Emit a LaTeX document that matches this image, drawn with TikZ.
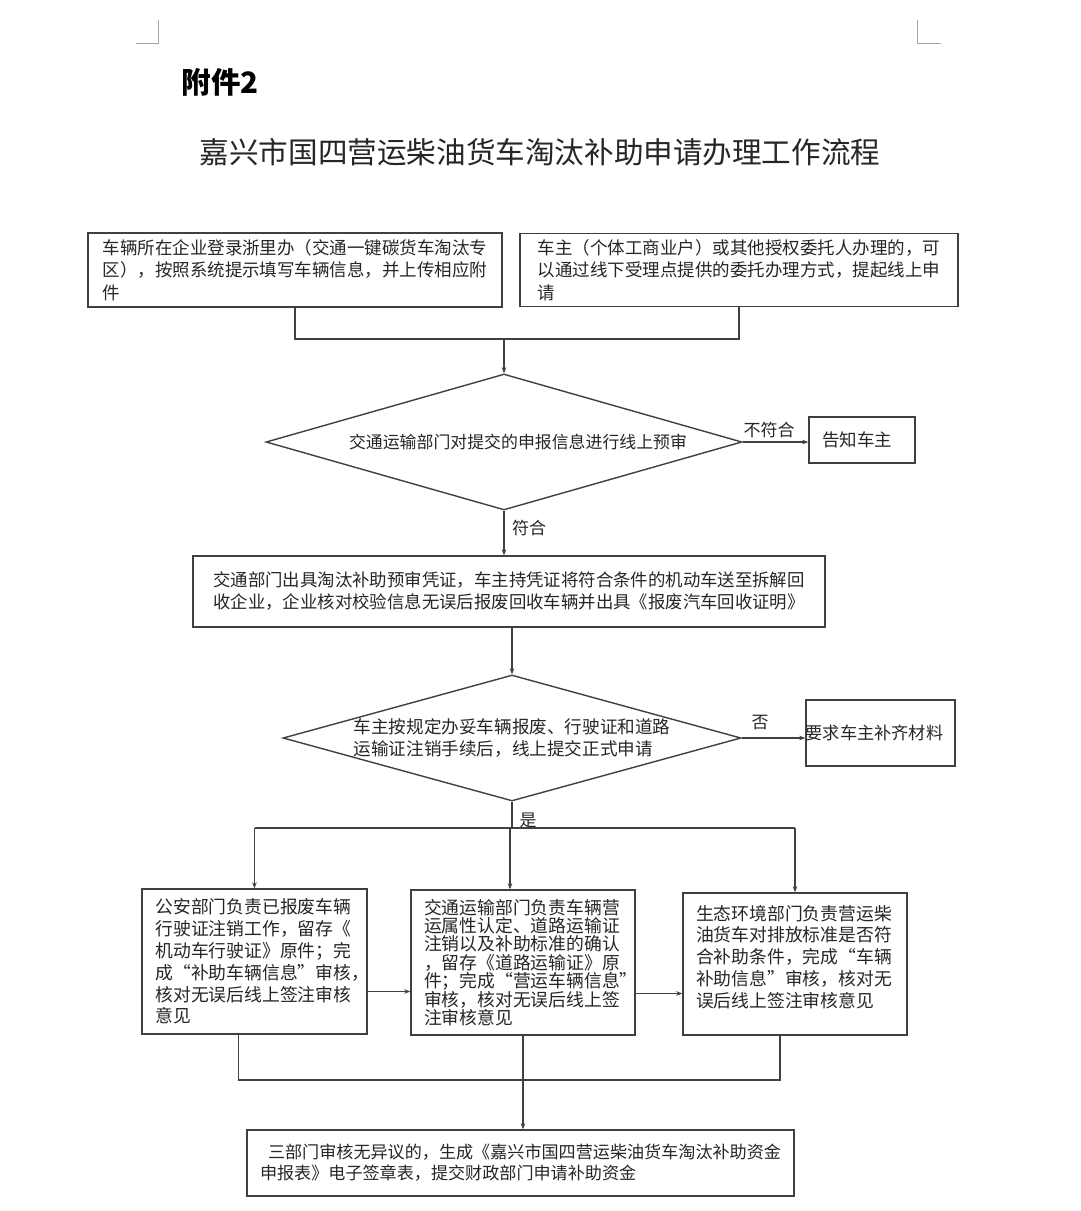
\documentclass[tikz,border=0pt]{standalone}
\usepackage{fontspec}
\setmainfont{Noto Sans CJK SC}
\usetikzlibrary{shapes.geometric,arrows.meta}
\definecolor{linec}{HTML}{404040}
\definecolor{txtc}{HTML}{262626}
\newcommand\fsz[2]{\fontsize{#1pt}{#2pt}\selectfont}
\begin{document}
\begin{tikzpicture}[x=1pt,y=-1pt,
  box/.style={draw=linec, line width=1.4pt, inner sep=0pt, align=left, text=txtc},
  dia/.style={draw=linec, line width=1.4pt, diamond, aspect=3.6, inner sep=-12pt, align=left, text=txtc},
  lbl/.style={text=txtc, inner sep=0pt, font=\fsz{17}{20}},
  ln/.style={draw=linec, line width=1.3pt},
  arr/.style={draw=linec, line width=1.3pt, -{Stealth[length=6pt,width=4.5pt]}}]
\useasboundingbox[fill=white] (0,0) rectangle (1080,1211);

% corner marks
\draw[gray!70, line width=1pt] (136,43) -- (158,43) -- (158,20);
\draw[gray!70, line width=1pt] (917,20) -- (917,43) -- (941,43);

% header
\node[text=black, font=\fsz{29.5}{34}\bfseries] (h1) at (220,82) {附件2};
\node[text=txtc, font=\fsz{29.6}{36}] (h2) at (540,152) {嘉兴市国四营运柴油货车淘汰补助申请办理工作流程};

% top boxes
\node[box, font=\fsz{17.5}{22.5}, minimum width=414pt, minimum height=74pt] (b1) at (295,270)
  {车辆所在企业登录浙里办（交通一键碳货车淘汰专\\区），按照系统提示填写车辆信息，并上传相应附\\件};
\node[box, font=\fsz{17.5}{22.5}, minimum width=438pt, minimum height=73pt] (b2) at (739,270)
  {车主（个体工商业户）或其他授权委托人办理的，可\\以通过线下受理点提供的委托办理方式，提起线上申\\请};

% diamond 1
\node[dia, font=\fsz{16.9}{20}, minimum width=476pt, minimum height=136pt] (d1) at (504,442)
  {\hspace*{28pt}交通运输部门对提交的申报信息进行线上预审};
\node[box, font=\fsz{17.5}{20}, minimum width=106pt, minimum height=46pt] (tz) at (862,440)
  {\hspace*{-10pt}告知车主};
\node[lbl] (l1) at (769,430) {不符合};
\node[lbl] (l2) at (529,528) {符合};

% box 3
\node[box, font=\fsz{17.4}{22}, minimum width=632pt, minimum height=71pt] (b3) at (509,591.5)
  {交通部门出具淘汰补助预审凭证，车主持凭证将符合条件的机动车送至拆解回\\收企业，企业核对校验信息无误后报废回收车辆并出具《报废汽车回收证明》};

% diamond 2
\node[dia, font=\fsz{17.6}{21.5}, minimum width=458pt, minimum height=126pt] (d2) at (512,738)
  {车主按规定办妥车辆报废、行驶证和道路\\运输证注销手续后，线上提交正式申请};
\node[box, font=\fsz{17.2}{20}, minimum width=149pt, minimum height=66pt] (rq) at (880.5,733)
  {\hspace*{-12pt}要求车主补齐材料};
\node[lbl] (l3) at (760,723) {否};
\node[lbl] (l4) at (528,820) {是};

% three department boxes
\node[box, font=\fsz{17.8}{21.8}, text width=198pt, minimum width=225pt, minimum height=145pt] (b4) at (254.5,961.5)
  {公安部门负责已报废车辆\\行驶证注销工作，留存《\\机动车行驶证》原件；完\\成“补助车辆信息”审核，\\核对无误后线上签注审核\\意见};
\node[box, font=\fsz{17.8}{18.4}, text width=198pt, minimum width=224pt, minimum height=145pt] (b5) at (523,962.5)
  {交通运输部门负责车辆营\\运属性认定、道路运输证\\注销以及补助标准的确认\\，留存《道路运输证》原\\件；完成“营运车辆信息”\\审核，核对无误后线上签\\注审核意见};
\node[box, font=\fsz{17.8}{21.7}, text width=198pt, minimum width=224pt, minimum height=142pt] (b6) at (795,964)
  {生态环境部门负责营运柴\\油货车对排放标准是否符\\合补助条件，完成“车辆\\补助信息”审核，核对无\\误后线上签注审核意见\\[-6pt]\mbox{}};

% final box
\node[box, font=\fsz{17.1}{21}, minimum width=547pt, minimum height=66pt] (b7) at (520.5,1163)
  {\hspace*{8pt}三部门审核无异议的，生成《嘉兴市国四营运柴油货车淘汰补助资金\\申报表》电子签章表，提交财政部门申请补助资金};

% connectors
\coordinate (j1) at (504,339);
\draw[ln] (b1.south) |- (j1) -| (b2.south);
\draw[arr] (j1) -- (d1.north);
\draw[arr] (d1.east) -- (d1.east -| tz.west);
\draw[arr] (d1.south) -- (d1.south |- b3.north);
\draw[arr] (d2.north |- b3.south) -- (d2.north);
\draw[arr] (d2.east) -- (d2.east -| rq.west);

\coordinate (j2) at (510,828);
\draw[ln] (d2.south) -- (d2.south |- j2);
\draw[ln] (b4.north |- j2) -- (b6.north |- j2);
\draw[arr] (b4.north |- j2) -- (b4.north);
\draw[arr] (j2) -- (j2 |- b5.north);
\draw[arr] (b6.north |- j2) -- (b6.north);

\draw[arr] ([yshift=-30pt]b4.east) -- ([yshift=-30pt]b4.east -| b5.west);
\draw[arr] ([yshift=-31pt]b5.east) -- ([yshift=-31pt]b5.east -| b6.west);

\coordinate (j3) at (520,1080);
\draw[ln] ([xshift=-16pt]b4.south) |- (j3) -| ([xshift=-15pt]b6.south);
\draw[arr] (b5.south) -- (b5.south |- b7.north);
\end{tikzpicture}
\end{document}
